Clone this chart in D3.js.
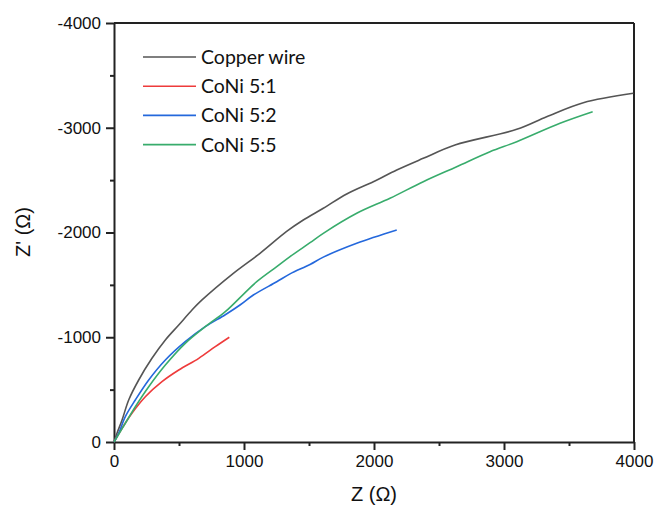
<!DOCTYPE html>
<html>
<head>
<meta charset="utf-8">
<script src="https://cdn.jsdelivr.net/npm/d3@7"></script>
<style>
  body { margin: 0; background: #fff; }
  .axis path, .axis line { stroke: #222; }
  .axis text { font-family: "Liberation Sans", Arimo, Arial, sans-serif; font-size: 17px; fill: #111; }
</style>
</head>
<body>
<div id="chart"></div>
<script>
var seriesNames = ["Copper wire", "CoNi 5:1", "CoNi 5:2", "CoNi 5:5"];
var seriesColors = ["#555555", "#ee3b3b", "#2468dc", "#38ac6c"];

// Z (ohm), Z' (ohm)
var copperZ = [0, 25, 62, 113, 190, 292, 395, 498, 600, 677, 918, 1123, 1328, 1456, 1610, 1790, 1995, 2175, 2379, 2623, 3098, 3328, 3610, 3995];
var copperZi = [0, -90, -210, -401, -592, -799, -974, -1117, -1260, -1356, -1610, -1801, -2010, -2119, -2231, -2368, -2485, -2597, -2708, -2835, -2985, -3105, -3239, -3329];

var coni51Z = [0, 62, 138, 241, 369, 498, 652, 779, 887];
var coni51Zi = [0, -131, -274, -432, -576, -687, -799, -910, -1000];

var coni52Z = [0, 36, 87, 164, 267, 395, 548, 702, 856, 972, 1072, 1252, 1354, 1508, 1610, 1867, 2175];
var coni52Zi = [0, -83, -242, -401, -592, -783, -958, -1101, -1215, -1310, -1403, -1530, -1605, -1695, -1765, -1897, -2024];

var coni55Z = [0, 87, 164, 267, 395, 548, 702, 856, 995, 1098, 1252, 1354, 1508, 1610, 1867, 2123, 2379, 2636, 2892, 3098, 3431, 3682];
var coni55Zi = [0, -179, -337, -528, -735, -942, -1101, -1244, -1410, -1530, -1674, -1770, -1903, -1992, -2183, -2327, -2485, -2628, -2771, -2867, -3043, -3153];

var xTicks = [0, 1000, 2000, 3000, 4000];
var yTicks = [0, -1000, -2000, -3000, -4000];

var allZ = [copperZ, coni51Z, coni52Z, coni55Z];
var allZi = [copperZi, coni51Zi, coni52Zi, coni55Zi];

var W = 656, H = 506;
var margin = {left: 114, right: 22, top: 23, bottom: 64};

var svg = d3.select("#chart").append("svg").attr("width", W).attr("height", H);

var x = d3.scaleLinear().domain([0, 4000]).range([margin.left, W - margin.right]);
var y = d3.scaleLinear().domain([0, -4000]).range([H - margin.bottom, margin.top]);

var minorX = d3.range(500, 4000, 1000);
var minorY = d3.range(-500, -4000, -1000);

// minor ticks
svg.append("g").attr("class", "axis")
  .attr("transform", "translate(0," + y(0) + ")")
  .call(d3.axisBottom(x).tickValues(minorX).tickSize(4).tickFormat(""))
  .call(function(g) { g.select(".domain").remove(); g.selectAll("line").attr("stroke-width", 2); });
svg.append("g").attr("class", "axis")
  .attr("transform", "translate(" + x(0) + ",0)")
  .call(d3.axisLeft(y).tickValues(minorY).tickSize(4).tickFormat(""))
  .call(function(g) { g.select(".domain").remove(); g.selectAll("line").attr("stroke-width", 2); });

// major axes
svg.append("g").attr("class", "axis")
  .attr("transform", "translate(0," + y(0) + ")")
  .call(d3.axisBottom(x).tickValues(xTicks).tickSize(8).tickSizeOuter(0).tickPadding(5).tickFormat(function(d) { return d; }))
  .call(function(g) { g.select(".domain").attr("stroke-width", 2); g.selectAll("line").attr("stroke-width", 2); });

svg.append("g").attr("class", "axis")
  .attr("transform", "translate(" + x(0) + ",0)")
  .call(d3.axisLeft(y).tickValues(yTicks).tickSize(8).tickSizeOuter(0).tickPadding(5).tickFormat(function(d) { return String(d); }))
  .call(function(g) { g.select(".domain").attr("stroke-width", 2); g.selectAll("line").attr("stroke-width", 2); });

// top and right frame
svg.append("line").attr("x1", x(0)).attr("x2", x(4000)).attr("y1", y(-4000)).attr("y2", y(-4000))
  .attr("stroke", "#222").attr("stroke-width", 2);
svg.append("line").attr("x1", x(4000)).attr("x2", x(4000)).attr("y1", y(-4000)).attr("y2", y(0))
  .attr("stroke", "#222").attr("stroke-width", 2);

var line = d3.line()
  .x(function(d) { return x(d[0]); })
  .y(function(d) { return y(d[1]); })
  .curve(d3.curveCatmullRom.alpha(0.5));

allZ.forEach(function(zs, i) {
  var pts = zs.map(function(v, j) { return [v, allZi[i][j]]; });
  svg.append("path")
    .attr("d", line(pts))
    .attr("fill", "none")
    .attr("stroke", seriesColors[i])
    .attr("stroke-width", 1.6);
});

// legend
var legend = svg.append("g");
seriesNames.forEach(function(n, i) {
  var ly = 57 + i * 29.2;
  legend.append("line").attr("x1", 143).attr("x2", 196).attr("y1", ly).attr("y2", ly)
    .attr("stroke", seriesColors[i]).attr("stroke-width", 1.6);
  legend.append("text").attr("x", 201).attr("y", ly).attr("dy", "0.36em")
    .style("font-family", "Lato, 'Open Sans', sans-serif").style("font-size", "19.5px").style("fill", "#111")
    .text(n);
});

// axis titles
svg.append("text")
  .attr("x", (x(0) + x(4000)) / 2).attr("y", 501)
  .attr("text-anchor", "middle")
  .style("font-family", "'Liberation Sans', Arimo, Arial, sans-serif").style("font-size", "20px").style("fill", "#111")
  .text("Z (Ω)");

svg.append("text")
  .attr("transform", "translate(30," + 232 + ") rotate(-90)")
  .attr("text-anchor", "middle")
  .style("font-family", "'Liberation Sans', Arimo, Arial, sans-serif").style("font-size", "20px").style("fill", "#111")
  .text("Z' (Ω)");
</script>
</body>
</html>
